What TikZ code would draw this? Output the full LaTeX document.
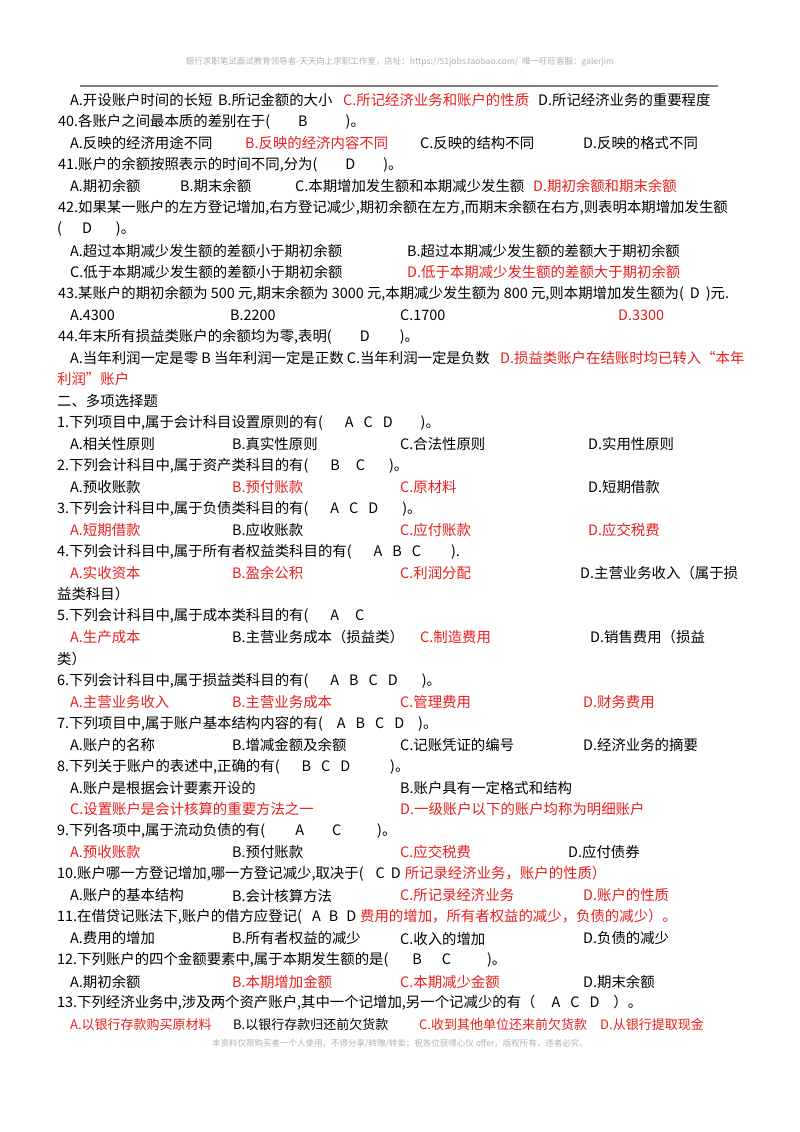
\documentclass[tikz,border=0pt]{standalone}
\usepackage{fontspec}
\setmainfont{Noto Sans CJK SC}
\definecolor{rd}{RGB}{232,30,30}
\definecolor{gy}{RGB}{175,175,175}
\newcommand{\gap}[1]{\hspace*{#1bp}}
\begin{document}
\begin{tikzpicture}[x=1bp,y=-1bp,
 t/.style={anchor=west,inner sep=0pt,font=\fontsize{14.4bp}{16bp}\selectfont},
 r/.style={t,text=rd},
 s/.style={anchor=west,inner sep=0pt,font=\fontsize{13bp}{15bp}\selectfont}]
\useasboundingbox (0,0) rectangle (800,1132);
\node[font=\fontsize{8.5bp}{10bp}\selectfont,text=gy] (hd) at (400,62) {银行求职笔试面试教育领导者-天天向上求职工作室，店址：https://51jobs.taobao.com/ \ 唯一旺旺客服：galerjim};
\coordinate (r1) at (80,86); \coordinate (r2) at (718,86);
\draw[line width=1.4pt,gray] (r1) -- (r2);
\node[t] (a0) at (70,100) {A.开设账户时间的长短};
\node[t] (b0) at (218,100) {B.所记金额的大小};
\node[r] (c0) at (343,100) {C.所记经济业务和账户的性质};
\node[t] (d0) at (538,100) {D.所记经济业务的重要程度};
\node[t] (q40) at (58,121.5) {40.各账户之间最本质的差别在于(\gap{28}B\gap{38})。};
\node[t] (a2) at (70,143) {A.反映的经济用途不同};
\node[r] (b2) at (245,143) {B.反映的经济内容不同};
\node[t] (c2) at (420,143) {C.反映的结构不同};
\node[t] (d2) at (583,143) {D.反映的格式不同};
\node[t] (q41) at (58,164.5) {41.账户的余额按照表示的时间不同,分为(\gap{28}D\gap{28})。};
\node[t] (a4) at (70,186) {A.期初余额};
\node[t] (b4) at (180,186) {B.期末余额};
\node[t] (c4) at (295,186) {C.本期增加发生额和本期减少发生额};
\node[r] (d4) at (533,186) {D.期初余额和期末余额};
\node[t] (q42) at (58,207.5) {42.如果某一账户的左方登记增加,右方登记减少,期初余额在左方,而期末余额在右方,则表明本期增加发生额};
\node[t] (q42b) at (57,229) {(\gap{20}D\gap{24})。};
\node[t] (a7) at (70,250.5) {A.超过本期减少发生额的差额小于期初余额};
\node[t] (b7) at (407,250.5) {B.超过本期减少发生额的差额大于期初余额};
\node[t] (c8) at (70,272) {C.低于本期减少发生额的差额小于期初余额};
\node[r] (d8) at (407,272) {D.低于本期减少发生额的差额大于期初余额};
\node[t] (q43) at (58,293.5) {43.某账户的期初余额为 500 元,期末余额为 3000 元,本期减少发生额为 800 元,则本期增加发生额为(\gap{6}D\gap{6})元.};
\node[t] (a10) at (70,315) {A.4300};
\node[t] (b10) at (230,315) {B.2200};
\node[t] (c10) at (400,315) {C.1700};
\node[r] (d10) at (618,315) {D.3300};
\node[t] (q44) at (58,336.5) {44.年末所有损益类账户的余额均为零,表明(\gap{28}D\gap{30})。};
\node[t] (a12) at (70,358) {A.当年利润一定是零\ B\ 当年利润一定是正数\ C.当年利润一定是负数};
\node[r] (d12) at (500,358) {D.损益类账户在结账时均已转入“本年};
\node[r] (d13) at (57,379.5) {利润”账户};
\node[t] (h2) at (57,401) {二、多项选择题};
\node[t] (m1) at (57,422.5) {1.下列项目中,属于会计科目设置原则的有(\gap{22}A\gap{10}C\gap{10}D\gap{28})。};
\node[t] (a16) at (70,444) {A.相关性原则};
\node[t] (b16) at (232,444) {B.真实性原则};
\node[t] (c16) at (400,444) {C.合法性原则};
\node[t] (d16) at (588,444) {D.实用性原则};
\node[t] (m2) at (57,465.5) {2.下列会计科目中,属于资产类科目的有(\gap{22}B\gap{16}C\gap{24})。};
\node[t] (a18) at (70,487) {A.预收账款};
\node[r] (b18) at (232,487) {B.预付账款};
\node[r] (c18) at (400,487) {C.原材料};
\node[t] (d18) at (588,487) {D.短期借款};
\node[t] (m3) at (57,508.5) {3.下列会计科目中,属于负债类科目的有(\gap{22}A\gap{10}C\gap{10}D\gap{24})。};
\node[r] (a20) at (70,530) {A.短期借款};
\node[t] (b20) at (232,530) {B.应收账款};
\node[r] (c20) at (400,530) {C.应付账款};
\node[r] (d20) at (588,530) {D.应交税费};
\node[t] (m4) at (57,551.5) {4.下列会计科目中,属于所有者权益类科目的有(\gap{22}A\gap{10}B\gap{10}C\gap{30}).};
\node[r] (a22) at (70,573) {A.实收资本};
\node[r] (b22) at (232,573) {B.盈余公积};
\node[r] (c22) at (400,573) {C.利润分配};
\node[t] (d22) at (580,573) {D.主营业务收入（属于损};
\node[t] (d23) at (57,594.5) {益类科目）};
\node[t] (m5) at (57,616) {5.下列会计科目中,属于成本类科目的有(\gap{22}A\gap{16}C};
\node[r] (a25) at (70,637.5) {A.生产成本};
\node[t] (b25) at (232,637.5) {B.主营业务成本（损益类）};
\node[r] (c25) at (420,637.5) {C.制造费用};
\node[t] (d25) at (590,637.5) {D.销售费用（损益};
\node[t] (d26) at (57,659) {类）};
\node[t] (m6) at (57,680.5) {6.下列会计科目中,属于损益类科目的有(\gap{22}A\gap{10}B\gap{10}C\gap{10}D\gap{24})。};
\node[r] (a28) at (70,702) {A.主营业务收入};
\node[r] (b28) at (232,702) {B.主营业务成本};
\node[r] (c28) at (400,702) {C.管理费用};
\node[r] (d28) at (583,702) {D.财务费用};
\node[t] (m7) at (57,723.5) {7.下列项目中,属于账户基本结构内容的有(\gap{14}A\gap{10}B\gap{10}C\gap{10}D\gap{14})。};
\node[t] (a30) at (70,745) {A.账户的名称};
\node[t] (b30) at (232,745) {B.增减金额及余额};
\node[t] (c30) at (400,745) {C.记账凭证的编号};
\node[t] (d30) at (583,745) {D.经济业务的摘要};
\node[t] (m8) at (57,766.5) {8.下列关于账户的表述中,正确的有(\gap{22}B\gap{10}C\gap{10}D\gap{40})。};
\node[t] (a32) at (70,788) {A.账户是根据会计要素开设的};
\node[t] (b32) at (400,788) {B.账户具有一定格式和结构};
\node[r] (c33) at (70,809.5) {C.设置账户是会计核算的重要方法之一};
\node[r] (d33) at (400,809.5) {D.一级账户以下的账户均称为明细账户};
\node[t] (m9) at (57,831) {9.下列各项中,属于流动负债的有(\gap{30}A\gap{28}C\gap{36})。};
\node[r] (a35) at (70,852.5) {A.预收账款};
\node[t] (b35) at (232,852.5) {B.预付账款};
\node[r] (c35) at (400,852.5) {C.应交税费};
\node[t] (d35) at (568,852.5) {D.应付债券};
\node[t] (m10) at (57,874) {10.账户哪一方登记增加,哪一方登记减少,取决于(\gap{12}C\gap{6}D\gap{4}\textcolor{rd}{所记录经济业务，账户的性质）}};
\node[t] (a37) at (70,895.5) {A.账户的基本结构};
\node[t] (b37) at (232,895.5) {B.会计核算方法};
\node[r] (c37) at (400,895.5) {C.所记录经济业务};
\node[r] (d37) at (583,895.5) {D.账户的性质};
\node[t] (m11) at (57,917) {11.在借贷记账法下,账户的借方应登记(\gap{10}A\gap{8}B\gap{8}D\gap{4}\textcolor{rd}{费用的增加，所有者权益的减少，负债的减少）。}};
\node[t] (a39) at (70,938.5) {A.费用的增加};
\node[t] (b39) at (232,938.5) {B.所有者权益的减少};
\node[t] (c39) at (400,938.5) {C.收入的增加};
\node[t] (d39) at (583,938.5) {D.负债的减少};
\node[t] (m12) at (57,960) {12.下列账户的四个金额要素中,属于本期发生额的是(\gap{24}B\gap{20}C\gap{36})。};
\node[t] (a41) at (70,981.5) {A.期初余额};
\node[r] (b41) at (232,981.5) {B.本期增加金额};
\node[r] (c41) at (400,981.5) {C.本期减少金额};
\node[t] (d41) at (583,981.5) {D.期末余额};
\node[t] (m13) at (57,1003) {13.下列经济业务中,涉及两个资产账户,其中一个记增加,另一个记减少的有（\gap{16}A\gap{10}C\gap{10}D\gap{14}）。};
\node[s,text=rd] (a43) at (70,1024.5) {A.以银行存款购买原材料};
\node[s] (b43) at (233,1024.5) {B.以银行存款归还前欠货款};
\node[s,text=rd] (c43) at (419,1024.5) {C.收到其他单位还来前欠货款};
\node[s,text=rd] (d43) at (600,1024.5) {D.从银行提取现金};
\node[font=\fontsize{8.5bp}{10bp}\selectfont,text=gy] (ft) at (400,1044) {本资料仅限购买者一个人使用，不得分享/转赠/转卖；祝各位获得心仪 offer，版权所有，违者必究。};
\end{tikzpicture}
\end{document}
